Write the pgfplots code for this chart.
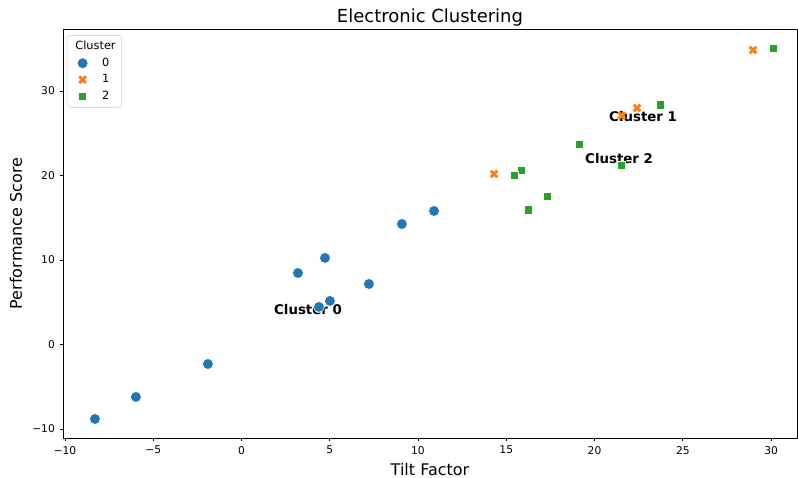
\documentclass[border=0pt]{standalone}
\usepackage{fontspec}
\setmainfont{DejaVu Sans}
\usepackage{pgfplots}
\pgfplotsset{compat=1.18}
\definecolor{c0}{HTML}{1F77B4}
\definecolor{c1}{HTML}{FF7F0E}
\definecolor{c2}{HTML}{2CA02C}
\begin{document}
\begin{tikzpicture}
\begin{axis}[
  scale only axis,
  width=550.5pt, height=306.75pt,
  xmin=-10.11, xmax=31.47,
  ymin=-11.07, ymax=37.34,
  xtick={-10,-5,0,5,10,15,20,25,30},
  xticklabels={−10,−5,0,5,10,15,20,25,30},
  ytick={-10,0,10,20,30},
  yticklabels={−10,0,10,20,30},
  tick align=outside,
  tick pos=left,
  major tick length=2.6pt,
  tick style={black, line width=0.6pt},
  axis line style={line width=0.6pt},
  ticklabel style={font=\fontsize{8}{9}\selectfont},
  /pgf/number format/assume math mode=true,
  title={Electronic Clustering},
  title style={font=\fontsize{13.5}{15}\selectfont, at={(axis description cs:0.5,1)}, anchor=base, inner sep=0pt, yshift=-1.5pt},
  xlabel={Tilt Factor},
  xlabel style={font=\fontsize{12}{14}\selectfont, at={(axis description cs:0.5,0)}, anchor=base, inner sep=0pt, yshift=-28.5pt},
  ylabel={Performance Score},
  ylabel style={font=\fontsize{12}{14}\selectfont, at={(axis description cs:-0.064,0.5)}, anchor=center, rotate=0},
  legend style={at={(0.0054,0.9853)}, anchor=north west, font=\fontsize{8.5}{10}\selectfont,
    draw=black!20, rounded corners=2pt, row sep=1.6pt, inner sep=3pt,
    nodes={inner sep=1.5pt}},
  legend cell align=left,
]
\addlegendimage{empty legend}
\addlegendentry{\hspace{-11pt}Cluster}

\addplot[only marks, mark=*, mark size=4.1pt, color=c0, mark options={fill=c0, draw=white, line width=0.5pt}]
coordinates {
(-8.30,-8.82) (-5.98,-6.21) (-1.90,-2.31) (3.20,8.46) (4.73,10.24)
(4.39,4.44) (5.01,5.15) (7.22,7.16) (9.09,14.26) (10.91,15.80)
};
\addlegendentry{\hspace{9pt}0}

\addplot[only marks, mark=x, mark size=3.5pt, color=c1, mark options={line width=2.2pt}]
coordinates {
(14.31,20.18) (22.41,27.99) (21.54,27.10) (28.98,34.85)
};
\addlegendentry{\hspace{9pt}1}

\addplot[only marks, mark=square*, mark size=3.1pt, color=c2, mark options={fill=c2, draw=white, line width=0.5pt}]
coordinates {
(30.11,35.09) (23.71,28.35) (19.12,23.73) (21.50,21.24) (15.84,20.65)
(15.44,20.06) (17.31,17.57) (16.23,15.92)
};
\addlegendentry{\hspace{9pt}2}

\node[font=\bfseries\fontsize{10}{12}\selectfont] at (axis cs:3.77,4.15) {Cluster 0};
\node[font=\bfseries\fontsize{10}{12}\selectfont] at (axis cs:22.75,27.0) {Cluster 1};
\node[font=\bfseries\fontsize{10}{12}\selectfont] at (axis cs:21.39,21.95) {Cluster 2};
\end{axis}
\path ([xshift=-47.25pt,yshift=-30pt]current axis.south west) rectangle ([xshift=0.75pt,yshift=21.75pt]current axis.north east);
\end{tikzpicture}
\end{document}
